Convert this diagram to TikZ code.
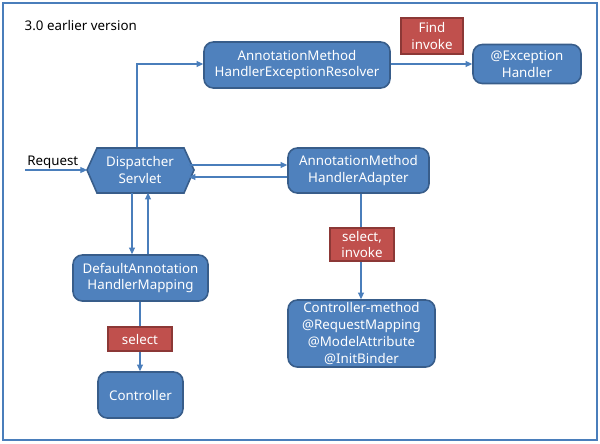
\documentclass[tikz,border=0pt]{standalone}
\usepackage{fontspec}
\setmainfont{Noto Sans}
\usetikzlibrary{arrows.meta}
\definecolor{bfill}{HTML}{4F81BD}
\definecolor{bdraw}{HTML}{385D8A}
\definecolor{rfill}{HTML}{C0504D}
\definecolor{rdraw}{HTML}{8C3836}
\definecolor{lblue}{HTML}{4A7EBB}
\begin{document}
\begin{tikzpicture}[x=0.75pt,y=-0.75pt,
  font=\fontsize{10}{12.6}\selectfont,
  bbox/.style={draw=bdraw,fill=bfill,line width=1.2pt,rounded corners=7pt,text=white,align=center,inner sep=0pt},
  rbox/.style={draw=rdraw,fill=rfill,line width=0.9pt,text=white,align=center,inner sep=0pt},
  conn/.style={draw=lblue,line width=0.8pt,-{Triangle[length=5pt,width=4.5pt]}}]
\useasboundingbox (0,0) rectangle (600,443);
\draw[lblue,line width=1.4pt] (3,3) rectangle (597,440);
\node[anchor=west,font=\fontsize{10}{12}\selectfont] (title) at (20,26) {3.0 earlier version};
% nodes
\node[bbox,minimum width=186*0.75pt,minimum height=46*0.75pt] (res) at (297,65) {AnnotationMethod\\HandlerExceptionResolver};
\node[rbox,minimum width=62*0.75pt,minimum height=36*0.75pt] (find) at (432,36) {Find\\invoke};
\node[bbox,minimum width=108*0.75pt,minimum height=39*0.75pt] (exh) at (527,64) {@Exception\\Handler};
\coordinate (dsc) at (140,170);
\draw[draw=bdraw,fill=bfill,line width=1.2pt] (87,170) -- (97,148) -- (184,148) -- (194,170) -- (184,193) -- (97,193) -- cycle;
\node[text=white,align=center,inner sep=0pt,minimum width=97*0.75pt,minimum height=45*0.75pt] (ds) at (dsc) {Dispatcher\\Servlet};
\node[inner sep=0pt,anchor=base west] (req) at (27,165) {Request};
\coordinate (reqs) at (25,170);
\coordinate (dsl) at (87,170);
\node[bbox,minimum width=141*0.75pt,minimum height=45*0.75pt] (ada) at (358.5,170.5) {AnnotationMethod\\HandlerAdapter};
\node[bbox,minimum width=135*0.75pt,minimum height=46*0.75pt] (map) at (140.5,278) {DefaultAnnotation\\HandlerMapping};
\node[bbox,minimum width=85*0.75pt,minimum height=46*0.75pt] (ctl) at (140.5,395) {Controller};
\node[bbox,minimum width=147*0.75pt,minimum height=67*0.75pt] (cm) at (361.5,333.5) {Controller-method\\@RequestMapping\\@ModelAttribute\\@InitBinder};
% connectors
\draw[conn] (reqs) -- (dsl);
\draw[conn] (ds.north -| 137,0) -- (137,64) -- (res.west |- 0,64);
\draw[conn] (res.east |- 0,64) -- (exh.west |- 0,64);
\draw[conn] (ds.east |- 0,165) -- (ada.west |- 0,165);
\draw[conn] (ada.west |- 0,177) -- (ds.east |- 0,177);
\draw[conn] (ds.south -| 132,0) -- (map.north -| 132,0);
\draw[conn] (map.north -| 148,0) -- (ds.south -| 148,0);
\draw[conn] (map.south -| 140,0) -- (ctl.north -| 140,0);
\draw[conn] (ada.south -| 361,0) -- (cm.north -| 361,0);
% labels on connectors
\node[rbox,minimum width=64*0.75pt,minimum height=24*0.75pt] (sel) at (140,339) {select};
\node[rbox,minimum width=64*0.75pt,minimum height=33*0.75pt] (selinv) at (362,244.5) {select,\\invoke};
\end{tikzpicture}
\end{document}
